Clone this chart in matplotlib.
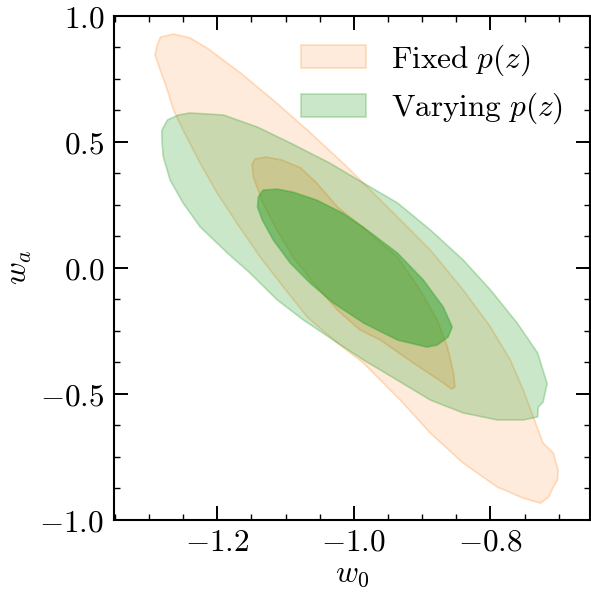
import matplotlib
matplotlib.use("Agg")
import matplotlib.pyplot as plt
from matplotlib.colors import to_rgba
from matplotlib.ticker import AutoMinorLocator, FixedLocator, FixedFormatter

plt.rcParams['mathtext.fontset'] = 'cm'
plt.rcParams['font.family'] = 'serif'
plt.rcParams['font.serif'] = ['DejaVu Serif']

# contour outlines (w0, wa)
fixed_outer_w0 = [-1.264, -1.240, -1.215, -1.166, -1.118, -1.068, -1.013, -0.936, -0.888,
                  -0.840, -0.800, -0.771, -0.752, -0.723, -0.708, -0.701, -0.702, -0.708,
                  -0.715, -0.727, -0.752, -0.790, -0.840, -0.888, -0.932, -0.986, -1.024,
                  -1.068, -1.103, -1.137, -1.171, -1.200, -1.225, -1.250, -1.264, -1.273,
                  -1.286, -1.291, -1.288, -1.283]
fixed_outer_wa = [0.927, 0.912, 0.872, 0.773, 0.665, 0.546, 0.408, 0.201, 0.070,
                  -0.088, -0.235, -0.366, -0.485, -0.696, -0.735, -0.803, -0.842, -0.870,
                  -0.910, -0.934, -0.914, -0.870, -0.775, -0.656, -0.525, -0.378, -0.299,
                  -0.196, -0.077, 0.042, 0.176, 0.296, 0.415, 0.546, 0.626, 0.705,
                  0.804, 0.844, 0.884, 0.915]

fixed_inner_w0 = [-1.149, -1.145, -1.128, -1.105, -1.078, -1.054, -1.024, -0.991, -0.936,
                  -0.903, -0.878, -0.863, -0.854, -0.852, -0.857, -0.869, -0.913, -0.961,
                  -0.991, -1.024, -1.059, -1.089, -1.112, -1.133, -1.147]
fixed_inner_wa = [0.408, 0.431, 0.439, 0.427, 0.396, 0.335, 0.241, 0.169, 0.042,
                  -0.088, -0.207, -0.315, -0.418, -0.473, -0.481, -0.457, -0.378, -0.287,
                  -0.247, -0.168, -0.061, 0.042, 0.148, 0.255, 0.360]

vary_outer_w0 = [-1.257, -1.240, -1.191, -1.141, -1.093, -1.035, -0.986, -0.936, -0.888,
                 -0.840, -0.800, -0.761, -0.731, -0.717, -0.723, -0.730, -0.731, -0.752,
                 -0.790, -0.840, -0.888, -0.961, -0.986, -1.030, -1.074, -1.112, -1.152,
                 -1.185, -1.225, -1.250, -1.269, -1.279, -1.281, -1.281, -1.273]
vary_outer_wa = [0.606, 0.614, 0.606, 0.558, 0.495, 0.415, 0.336, 0.257, 0.150,
                 0.031, -0.088, -0.219, -0.338, -0.460, -0.533, -0.553, -0.592, -0.604,
                 -0.604, -0.576, -0.525, -0.406, -0.366, -0.287, -0.207, -0.128, -0.021,
                 0.058, 0.162, 0.257, 0.348, 0.440, 0.507, 0.546, 0.586]

vary_inner_w0 = [-1.140, -1.133, -1.112, -1.089, -1.054, -1.016, -0.986, -0.936, -0.898,
                 -0.869, -0.856, -0.862, -0.878, -0.893, -0.936, -0.986, -1.030, -1.064,
                 -1.093, -1.118, -1.134, -1.141]
vary_inner_wa = [0.280, 0.308, 0.312, 0.300, 0.268, 0.216, 0.161, 0.058, -0.049,
                 -0.156, -0.235, -0.275, -0.307, -0.315, -0.287, -0.219, -0.140, -0.061,
                 0.018, 0.110, 0.189, 0.240]

labels = [r'$\mathrm{Fixed}\ p(z)$', r'$\mathrm{Varying}\ p(z)$']
x_ticks = [-1.2, -1.0, -0.8]
y_ticks = [-1.0, -0.5, 0.0, 0.5, 1.0]

orange = '#ff7f0e'
green = '#2ca02c'
fs = 22.5

fig = plt.figure(figsize=(5.91, 5.92), dpi=100)
ax = fig.add_axes([0.193, 0.122, 0.8045, 0.8515])

ax.fill(fixed_outer_w0, fixed_outer_wa, fc=to_rgba(orange, 0.15), ec=to_rgba(orange, 0.25),
        lw=1.2, joinstyle='round', label=labels[0])
ax.fill(fixed_inner_w0, fixed_inner_wa, fc=to_rgba(orange, 0.2), ec=to_rgba(orange, 0.3),
        lw=1.2, joinstyle='round')
ax.fill(vary_outer_w0, vary_outer_wa, fc=to_rgba(green, 0.25), ec=to_rgba(green, 0.3),
        lw=1.2, joinstyle='round', label=labels[1])
ax.fill(vary_inner_w0, vary_inner_wa, fc=to_rgba(green, 0.5), ec=to_rgba(green, 0.4),
        lw=1.2, joinstyle='round')

ax.set_xlim(-1.351, -0.655)
ax.set_ylim(-1.0, 1.0)

ax.xaxis.set_major_locator(FixedLocator(x_ticks))
ax.xaxis.set_major_formatter(FixedFormatter([f'${v:.1f}$' for v in x_ticks]))
ax.yaxis.set_major_locator(FixedLocator(y_ticks))
ax.yaxis.set_major_formatter(FixedFormatter([f'${v:.1f}$' for v in y_ticks]))
ax.xaxis.set_minor_locator(AutoMinorLocator(4))
ax.yaxis.set_minor_locator(AutoMinorLocator(4))
ax.tick_params(which='both', direction='in', top=True, right=True, labelsize=fs)
ax.tick_params(which='major', length=10, width=1.4)
ax.tick_params(which='minor', length=4.5, width=1.0)
ax.tick_params(axis='x', which='major', pad=5)
ax.tick_params(axis='y', which='major', pad=7)
for s in ax.spines.values():
    s.set_linewidth(1.5)

ax.set_xlabel(r'$w_0$', fontsize=fs, labelpad=0)
ax.set_ylabel(r'$w_a$', fontsize=fs, labelpad=4)

ax.legend(loc='upper right', frameon=False, fontsize=fs, handlelength=2.08,
          handleheight=0.74, handletextpad=0.8, labelspacing=0.42,
          borderaxespad=0.45)

fig.savefig('out.png', dpi=100)
